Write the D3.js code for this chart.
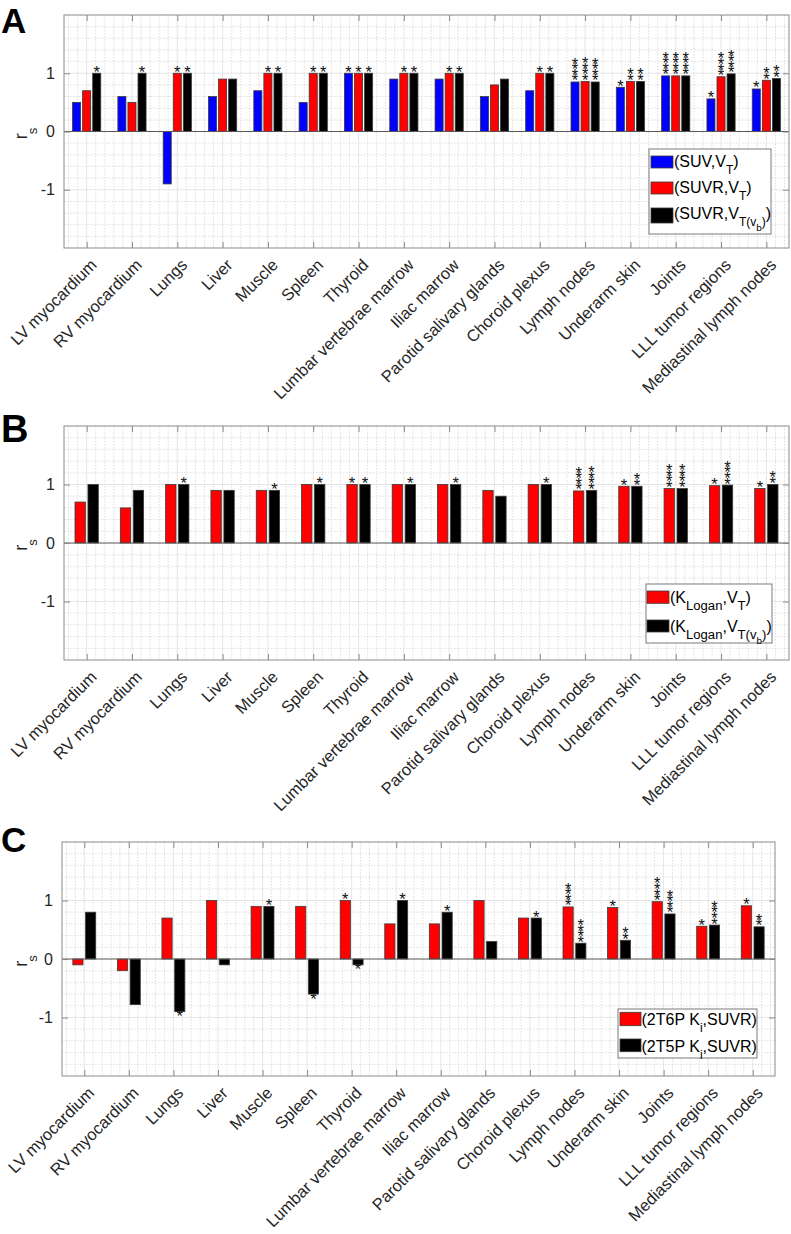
<!DOCTYPE html>
<html><head><meta charset="utf-8">
<script src="https://cdn.jsdelivr.net/npm/d3@7"></script>
<style>
body{margin:0;background:#fff}
svg{display:block}
text{font-family:"Liberation Sans",Arial,Helvetica,sans-serif}
</style>
</head><body>
<svg id="chart" width="791" height="1234"></svg>
<script>
// ---------------- DATA ----------------
const categories = ["LV myocardium","RV myocardium","Lungs","Liver","Muscle","Spleen","Thyroid",
  "Lumbar vertebrae marrow","Iliac marrow","Parotid salivary glands","Choroid plexus","Lymph nodes",
  "Underarm skin","Joints","LLL tumor regions","Mediastinal lymph nodes"];
const yTickValues = [-1, 0, 1];
const yTickLabels = ["-1", "0", "1"];

// Panel A
const A_SUV_VT      = [0.5, 0.6, -0.9, 0.6, 0.7, 0.5, 1.0, 0.9, 0.9, 0.6, 0.7, 0.85, 0.76, 0.955, 0.56, 0.73];
const A_SUVR_VT     = [0.7, 0.5, 1.0, 0.9, 1.0, 1.0, 1.0, 1.0, 1.0, 0.8, 1.0, 0.86, 0.86, 0.955, 0.94, 0.88];
const A_SUVR_VTvb   = [1.0, 1.0, 1.0, 0.9, 1.0, 1.0, 1.0, 1.0, 1.0, 0.9, 1.0, 0.85, 0.86, 0.955, 0.99, 0.91];
const A_SUV_VT_sig    = [0,0,0,0,0,0,1,0,0,0,0,4,1,4,1,1];
const A_SUVR_VT_sig   = [0,0,1,0,1,1,1,1,1,0,1,4,2,4,4,2];
const A_SUVR_VTvb_sig = [1,1,1,0,1,1,1,1,1,0,1,4,2,4,4,2];

// Panel B
const B_KLogan_VT     = [0.7, 0.6, 1.0, 0.9, 0.9, 1.0, 1.0, 1.0, 1.0, 0.9, 1.0, 0.89, 0.97, 0.93, 0.98, 0.93];
const B_KLogan_VTvb   = [1.0, 0.9, 1.0, 0.9, 0.9, 1.0, 1.0, 1.0, 1.0, 0.8, 1.0, 0.90, 0.97, 0.93, 0.99, 1.0];
const B_KLogan_VT_sig   = [0,0,0,0,0,0,1,0,0,0,0,4,1,4,1,1];
const B_KLogan_VTvb_sig = [0,0,1,0,1,1,1,1,1,0,1,4,2,4,4,2];

// Panel C
const C_2T6P_SUVR     = [-0.1, -0.2, 0.7, 1.0, 0.9, 0.9, 1.0, 0.6, 0.6, 1.0, 0.7, 0.89, 0.88, 0.98, 0.56, 0.91];
const C_2T5P_SUVR     = [0.8, -0.78, -0.9, -0.1, 0.9, -0.6, -0.1, 1.0, 0.8, 0.3, 0.7, 0.27, 0.32, 0.77, 0.58, 0.55];
const C_2T6P_sig      = [0,0,0,0,0,0,1,0,0,0,0,4,1,4,1,1];
const C_2T5P_sig      = [0,0,1,0,1,1,1,1,1,0,1,4,2,4,4,2];

// Legend labels: [text, subscript level]
const legendA = [
  [["(SUV,V",0],["T",1],[")",0]],
  [["(SUVR,V",0],["T",1],[")",0]],
  [["(SUVR,V",0],["T(v",1],["b",2],[")",1],[")",0]]
];
const legendB = [
  [["(K",0],["Logan",1],[",V",0],["T",1],[")",0]],
  [["(K",0],["Logan",1],[",V",0],["T(v",1],["b",2],[")",1],[")",0]]
];
const legendC = [
  [["(2T6P K",0],["i",1],[",SUVR)",0]],
  [["(2T5P K",0],["i",1],[",SUVR)",0]]
];

// ---------------- DRAW ----------------
const svg = d3.select("#chart");
const FRAME = "#8a8a8a";
const TXT = "#262626";
const FONT = '"Liberation Sans",Arial,sans-serif';

function drawPanel(p) {
  const g = svg.append("g");
  const x = d3.scaleLinear().domain([0.5, 16.5]).range([p.left, p.right]);
  const y = d3.scaleLinear().domain([-2, 2]).range([p.bottom, p.top]);

  // minor grid (dotted)
  const xMinor = d3.range(6, 165, 2).map(v => v / 10).filter(v => Math.abs(v - Math.round(v)) > 1e-6);
  const yMinor = d3.range(-18, 19, 2).map(v => v / 10).filter(v => Math.abs(v - Math.round(v)) > 1e-6);
  g.append("g").selectAll("line").data(xMinor).join("line")
    .attr("x1", d => x(d)).attr("x2", d => x(d)).attr("y1", p.top).attr("y2", p.bottom)
    .attr("stroke", "#d6d6d6").attr("stroke-width", 0.8).attr("stroke-dasharray", "1.5,1.5");
  g.append("g").selectAll("line").data(yMinor).join("line")
    .attr("y1", d => y(d)).attr("y2", d => y(d)).attr("x1", p.left).attr("x2", p.right)
    .attr("stroke", "#d6d6d6").attr("stroke-width", 0.8).attr("stroke-dasharray", "1.5,1.5");
  // major grid
  g.append("g").selectAll("line").data(d3.range(1, 17)).join("line")
    .attr("x1", d => x(d)).attr("x2", d => x(d)).attr("y1", p.top).attr("y2", p.bottom)
    .attr("stroke", "#e0e0e0").attr("stroke-width", 0.8);
  g.append("g").selectAll("line").data([-1, 1]).join("line")
    .attr("y1", d => y(d)).attr("y2", d => y(d)).attr("x1", p.left).attr("x2", p.right)
    .attr("stroke", "#e0e0e0").attr("stroke-width", 0.8);

  // bars
  const n = p.series.length;
  const groupW = Math.min(0.8, n / (n + 1.5));
  const slot = groupW / n;
  const barW = slot * 0.8;
  const pxPerUnit = x(1) - x(0);
  p.series.forEach((s, j) => {
    const off = (j - (n - 1) / 2) * slot;
    g.append("g").selectAll("rect").data(s.values).join("rect")
      .attr("x", (d, i) => x(i + 1 + off - barW / 2))
      .attr("width", barW * pxPerUnit)
      .attr("y", d => y(Math.max(0, d)))
      .attr("height", d => Math.abs(y(d) - y(0)))
      .attr("fill", s.color).attr("stroke", "#3a3a3a").attr("stroke-width", 0.8);
    // significance stars: one text element per stack
    s.sig.forEach((k, i) => {
      if (!k) return;
      const cx = x(i + 1 + off);
      const v = s.values[i];
      const cy0 = v >= 0 ? y(v) - 5 : y(v) + 1;
      const t = g.append("text").attr("x", cx).attr("y", cy0 + 9.5)
        .attr("text-anchor", "middle").attr("font-size", 16.5).attr("fill", "#111");
      for (let m = 0; m < k; m++) {
        t.append("tspan").attr("x", cx).attr("dy", m === 0 ? 0 : -5.6).text("*");
      }
    });
  });

  // zero line
  g.append("line").attr("x1", p.left).attr("x2", p.right).attr("y1", y(0)).attr("y2", y(0))
    .attr("stroke", "#555").attr("stroke-width", 1);

  // axes with inward ticks
  const ax = d3.axisBottom(x).tickValues(d3.range(1, 17)).tickFormat(i => categories[i - 1])
    .tickSizeInner(-6).tickSizeOuter(0);
  const axG = g.append("g").attr("transform", `translate(0,${p.bottom})`).call(ax);
  axG.select(".domain").remove();
  axG.selectAll(".tick line").attr("stroke", FRAME);
  axG.selectAll(".tick text")
    .attr("x", null).attr("y", null).attr("dy", null)
    .attr("transform", "translate(10.5,18) rotate(-45)")
    .style("text-anchor", "end").attr("font-size", 16.5).attr("fill", TXT)
    .style("font-family", FONT);

  const axT = d3.axisTop(x).tickValues(d3.range(1, 17)).tickFormat("").tickSizeInner(-6).tickSizeOuter(0);
  const atG = g.append("g").attr("transform", `translate(0,${p.top})`).call(axT);
  atG.select(".domain").remove();
  atG.selectAll(".tick line").attr("stroke", FRAME);

  const ayl = d3.axisLeft(y).tickValues(yTickValues).tickFormat((d, i) => yTickLabels[i])
    .tickSizeInner(-6).tickSizeOuter(0).tickPadding(9);
  const aylG = g.append("g").attr("transform", `translate(${p.left},0)`).call(ayl);
  aylG.select(".domain").remove();
  aylG.selectAll(".tick line").attr("stroke", FRAME);
  aylG.selectAll(".tick text").attr("font-size", 16).attr("fill", TXT)
    .style("font-family", FONT);

  const ayr = d3.axisRight(y).tickValues(yTickValues).tickFormat("").tickSizeInner(-6).tickSizeOuter(0);
  const ayrG = g.append("g").attr("transform", `translate(${p.right},0)`).call(ayr);
  ayrG.select(".domain").remove();
  ayrG.selectAll(".tick line").attr("stroke", FRAME);

  // frame
  g.append("rect").attr("x", p.left).attr("y", p.top)
    .attr("width", p.right - p.left).attr("height", p.bottom - p.top)
    .attr("fill", "none").attr("stroke", FRAME).attr("stroke-width", 1);

  // y label r_s
  const yl = g.append("text")
    .attr("transform", `translate(27,${(p.top + p.bottom) / 2 + 2}) rotate(-90)`)
    .attr("text-anchor", "middle").attr("fill", TXT);
  yl.append("tspan").attr("font-size", 18).text("r");
  yl.append("tspan").attr("font-size", 13).attr("dy", 10).attr("dx", -1).text("s");

  // panel letter
  g.append("text").attr("x", p.letterX).attr("y", p.letterY)
    .attr("font-size", p.letterSize).attr("font-weight", "bold").attr("fill", "#000").text(p.letter);

  // legend
  const L = p.legend;
  g.append("rect").attr("x", L.box[0]).attr("y", L.box[1])
    .attr("width", L.box[2] - L.box[0]).attr("height", L.box[3] - L.box[1])
    .attr("fill", "#fff").attr("stroke", "#7a7a7a").attr("stroke-width", 1);
  const fs = [L.font, L.font * L.subRatio, L.font * 0.62];
  const sh = [0, 7, 12];
  L.rows.forEach((r, i) => {
    g.append("rect").attr("x", L.swX[0]).attr("y", r.sw[0])
      .attr("width", L.swX[1] - L.swX[0]).attr("height", r.sw[1] - r.sw[0])
      .attr("fill", p.series[i].color).attr("stroke", "#3a3a3a").attr("stroke-width", 0.8);
    const t = g.append("text").attr("x", L.textX).attr("y", r.base).attr("fill", "#000");
    let prev = 0;
    L.labels[i].forEach(([str, lev]) => {
      t.append("tspan").attr("font-size", fs[lev]).attr("dy", sh[lev] - sh[prev]).text(str);
      prev = lev;
    });
  });
}

drawPanel({
  left: 64, right: 789, top: 15, bottom: 248,
  letter: "A", letterX: 1, letterY: 33, letterSize: 35,
  series: [
    {values: A_SUV_VT, sig: A_SUV_VT_sig, color: "#0000ff"},
    {values: A_SUVR_VT, sig: A_SUVR_VT_sig, color: "#ff0000"},
    {values: A_SUVR_VTvb, sig: A_SUVR_VTvb_sig, color: "#000000"}
  ],
  legend: {
    box: [649, 149, 771, 234], swX: [651, 673], textX: 674, font: 16, subRatio: 0.75, labels: legendA,
    rows: [{sw: [156, 168], base: 166.7}, {sw: [182, 194], base: 193}, {sw: [208, 223], base: 218.5}]
  }
});

drawPanel({
  left: 64, right: 789, top: 426, bottom: 660,
  letter: "B", letterX: 1, letterY: 442, letterSize: 38,
  series: [
    {values: B_KLogan_VT, sig: B_KLogan_VT_sig, color: "#ff0000"},
    {values: B_KLogan_VTvb, sig: B_KLogan_VTvb_sig, color: "#000000"}
  ],
  legend: {
    box: [646, 584, 772, 643], swX: [647, 669], textX: 670, font: 16, subRatio: 0.82, labels: legendB,
    rows: [{sw: [591, 603.3], base: 603.3}, {sw: [620, 632], base: 631.7}]
  }
});

drawPanel({
  left: 62, right: 775, top: 842, bottom: 1076,
  letter: "C", letterX: 1, letterY: 852, letterSize: 35,
  series: [
    {values: C_2T6P_SUVR, sig: C_2T6P_sig, color: "#ff0000"},
    {values: C_2T5P_SUVR, sig: C_2T5P_sig, color: "#000000"}
  ],
  legend: {
    box: [618, 1009, 757, 1058], swX: [620, 641], textX: 641.5, font: 16, subRatio: 0.75, labels: legendC,
    rows: [{sw: [1012.3, 1025.7], base: 1025}, {sw: [1039, 1051.7], base: 1051.7}]
  }
});
</script>
</body></html>
